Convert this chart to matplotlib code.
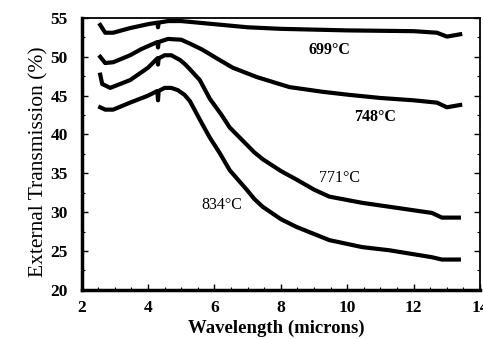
import matplotlib
matplotlib.use("Agg")
import matplotlib.pyplot as plt
from matplotlib.ticker import MultipleLocator

plt.rcParams['font.family'] = ['Liberation Serif', 'DejaVu Serif']

# values
wl_699 = [2.56, 2.71, 2.95, 3.46, 4.0, 4.28, 4.30, 4.32, 4.6, 5.0, 6.0, 7.0, 8.0, 10.0, 12.0, 12.7, 13.0, 13.4]
tr_699 = [54.1, 53.1, 53.1, 53.7, 54.2, 54.4, 53.8, 54.4, 54.6, 54.6, 54.2, 53.8, 53.6, 53.4, 53.3, 53.1, 52.6, 52.9]

wl_748 = [2.56, 2.71, 2.95, 3.46, 3.8, 4.28, 4.30, 4.32, 4.6, 5.0, 5.26, 5.6, 5.8, 6.07, 6.55, 7.27, 7.8, 8.26, 9.25, 10.06, 11.0, 12.0, 12.7, 13.0, 13.4]
tr_748 = [50.0, 49.2, 49.3, 50.2, 51.0, 51.9, 51.2, 51.9, 52.3, 52.2, 51.7, 51.0, 50.5, 49.8, 48.6, 47.4, 46.7, 46.1, 45.5, 45.1, 44.7, 44.4, 44.1, 43.5, 43.8]

wl_771 = [2.56, 2.62, 2.86, 3.46, 4.0, 4.28, 4.30, 4.32, 4.5, 4.7, 4.96, 5.1, 5.26, 5.56, 5.86, 6.2, 6.46, 6.97, 7.2, 7.46, 8.0, 8.47, 9.0, 9.46, 10.45, 11.26, 12.55, 12.85, 13.36]
tr_771 = [47.7, 46.5, 46.0, 47.0, 48.6, 49.8, 49.0, 49.8, 50.2, 50.2, 49.6, 49.1, 48.4, 47.0, 44.6, 42.6, 40.9, 38.7, 37.7, 36.8, 35.3, 34.2, 32.9, 32.0, 31.2, 30.7, 29.9, 29.3, 29.3]

wl_834 = [2.56, 2.71, 2.95, 3.46, 4.0, 4.28, 4.30, 4.32, 4.5, 4.7, 4.9, 5.1, 5.26, 5.6, 5.86, 6.16, 6.46, 6.97, 7.2, 7.45, 8.0, 8.47, 9.46, 10.45, 11.26, 12.55, 12.85, 13.36]
tr_834 = [43.5, 43.2, 43.2, 44.1, 45.0, 45.6, 44.4, 45.6, 46.0, 46.0, 45.7, 45.1, 44.3, 41.6, 39.6, 37.6, 35.4, 32.9, 31.7, 30.7, 29.1, 28.1, 26.4, 25.5, 25.1, 24.2, 23.9, 23.9]

curves = [(wl_699, tr_699), (wl_748, tr_748), (wl_771, tr_771), (wl_834, tr_834)]

# label text and where it sits (data coords)
labels = ["699°C", "748°C", "771°C", "834°C"]
label_x = [9.46, 10.84, 9.76, 6.22]
label_y = [50.9, 42.3, 34.4, 30.9]
label_bold = [True, True, False, False]

fig = plt.figure(figsize=(4.83, 3.39), dpi=100)
ax = fig.add_axes([0.169, 0.145, 0.825, 0.802])

for wl, tr in curves:
    ax.plot(wl, tr, color='black', linewidth=3.0, solid_joinstyle='round')

for txt, lx, ly, b in zip(labels, label_x, label_y, label_bold):
    ax.text(lx, ly, txt, ha='center', va='center', fontsize=11.5,
            fontweight='bold' if b else 'normal')

ax.set_xlim(2, 14)
ax.set_ylim(20, 55)
ax.xaxis.set_major_locator(MultipleLocator(2))
ax.xaxis.set_minor_locator(MultipleLocator(0.5))
ax.yaxis.set_major_locator(MultipleLocator(5))
ax.yaxis.set_minor_locator(MultipleLocator(2.5))

ax.tick_params(which='both', direction='in', top=False, right=True)
ax.tick_params(which='major', length=4, width=1, labelsize=12.5, pad=7)
ax.tick_params(which='minor', length=2, width=0.8)
for lab in ax.get_xticklabels() + ax.get_yticklabels():
    lab.set_fontweight('bold')
ax.tick_params(axis='y', pad=10)

ax.spines['left'].set_linewidth(2.5)
ax.spines['bottom'].set_linewidth(2.5)
ax.spines['top'].set_linewidth(1.3)
ax.spines['right'].set_linewidth(1.3)

ax.set_xlabel("Wavelength (microns)", fontsize=13.5, fontweight='bold')
ax.set_ylabel("External Transmission (%)", fontsize=15.5)
ax.xaxis.set_label_coords(0.488, -0.11)
ax.yaxis.set_label_coords(-0.082, 0.47)

fig.savefig("out.png", dpi=100)
